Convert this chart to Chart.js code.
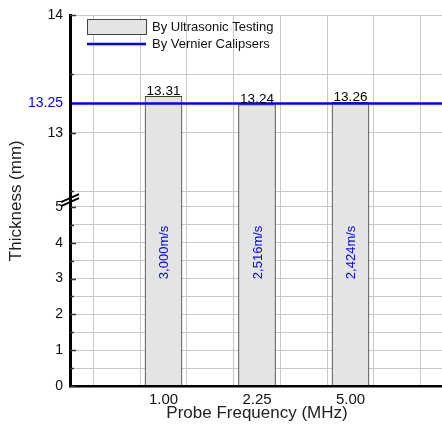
<!DOCTYPE html>
<html>
<head>
<meta charset="utf-8">
<script src="https://cdn.jsdelivr.net/npm/chart.js@4.4.1/dist/chart.umd.min.js"></script>
<style>
  html, body { margin: 0; padding: 0; background: #fff; overflow: hidden; }
  canvas { display: block; }
</style>
</head>
<body>
<canvas id="thicknessChart" width="449" height="430"></canvas>
<script>
// Data
const frequencies = ['1.00', '2.25', '5.00'];
const freqPositions = [2, 4, 6];
const ultrasonicThickness = [13.31, 13.24, 13.26];
const velocities = ['3,000m/s', '2,516m/s', '2,424m/s'];
const vernierThickness = 13.25;
const yLabelValues = [0, 1, 2, 3, 4, 5, 13, 14];
const xMin = 0, xMax = 8;

// Broken y axis: 0..lowTop at normal scale, highBottom..14 stretched
const lowTop = 5.3;
const highBottom = 12.46;
const highStretch = 118 / 36;

const FONT = '"Liberation Sans", Arial, sans-serif';
Chart.defaults.font.family = FONT;

function squash(v) {
  if (v <= lowTop) return v;
  return lowTop + (Math.max(v, highBottom) - highBottom) * highStretch;
}
function unsquash(d) {
  if (d <= lowTop) return d;
  return highBottom + (d - lowTop) / highStretch;
}

// gridline values: every 0.5 in both segments, plus the vernier value
const yTickValues = [];
for (let v = 0; v <= 5; v += 0.5) yTickValues.push(v);
for (let v = 12.5; v <= 14; v += 0.5) yTickValues.push(v);
yTickValues.push(vernierThickness);
yTickValues.sort((a, b) => a - b);

class BrokenScale extends Chart.LinearScale {
  getPixelForValue(value) {
    const lo = squash(this.min), hi = squash(this.max);
    return this.getPixelForDecimal((squash(value) - lo) / (hi - lo));
  }
  getValueForPixel(pixel) {
    const lo = squash(this.min), hi = squash(this.max);
    return unsquash(lo + this.getDecimalForPixel(pixel) * (hi - lo));
  }
  buildTicks() {
    return yTickValues.map(v => ({ value: v }));
  }
}
BrokenScale.id = 'broken';
BrokenScale.defaults = Chart.LinearScale.defaults;
Chart.register(BrokenScale);

const extras = {
  id: 'extras',
  afterDatasetsDraw(chart) {
    const { ctx } = chart;
    const y = chart.scales.y;
    const bars = chart.getDatasetMeta(0).data;
    ctx.save();
    ctx.textAlign = 'center';
    // values above bars
    ctx.fillStyle = '#000';
    ctx.font = '13.5px ' + FONT;
    ctx.textBaseline = 'alphabetic';
    bars.forEach((bar, i) => {
      ctx.fillText(ultrasonicThickness[i].toFixed(2), bar.x, bar.y - 1.5);
    });
    // velocities, rotated inside the bars
    ctx.fillStyle = '#0000ff';
    ctx.font = '13px ' + FONT;
    ctx.textBaseline = 'middle';
    bars.forEach((bar, i) => {
      ctx.save();
      ctx.translate(bar.x + 1, y.getPixelForValue(3.73));
      ctx.rotate(-Math.PI / 2);
      ctx.fillText(velocities[i], 0, 0);
      ctx.restore();
    });
    ctx.restore();
  },
  afterDraw(chart) {
    const { ctx, chartArea } = chart;
    const y = chart.scales.y;
    const xa = chartArea.left;
    ctx.save();

    // inward tick marks
    ctx.strokeStyle = '#333';
    ctx.lineWidth = 1.5;
    yTickValues.forEach(v => {
      if (v === vernierThickness) return;
      const py = Math.round(y.getPixelForValue(v)) + 0.5;
      const len = Number.isInteger(v) ? 6 : 4;
      ctx.beginPath();
      ctx.moveTo(xa, py);
      ctx.lineTo(xa + len, py);
      ctx.stroke();
    });

    // axis break marks
    const yb = y.getPixelForValue(lowTop);
    ctx.strokeStyle = '#000';
    ctx.lineWidth = 2;
    [0, 4].forEach(d => {
      ctx.beginPath();
      ctx.moveTo(xa - 9, yb + 2 + d + 4);
      ctx.lineTo(xa + 9, yb + 2 + d - 4);
      ctx.stroke();
    });

    // legend
    const ds = chart.data.datasets;
    const lx = xa + 17;
    ctx.font = '13px ' + FONT;
    ctx.textAlign = 'left';
    ctx.textBaseline = 'middle';
    ctx.fillStyle = ds[0].backgroundColor;
    ctx.fillRect(lx + 0.5, 19.5, 59, 15);
    ctx.strokeStyle = '#444';
    ctx.lineWidth = 1;
    ctx.strokeRect(lx + 0.5, 19.5, 59, 15);
    ctx.fillStyle = '#111';
    ctx.fillText(ds[0].label, lx + 65, 27);

    ctx.strokeStyle = ds[1].borderColor;
    ctx.lineWidth = 2.5;
    ctx.beginPath();
    ctx.moveTo(lx, 44);
    ctx.lineTo(lx + 59, 44);
    ctx.stroke();
    ctx.fillStyle = '#111';
    ctx.fillText(ds[1].label, lx + 65, 44);

    ctx.restore();
  }
};

new Chart(document.getElementById('thicknessChart'), {
  type: 'bar',
  data: {
    datasets: [
      {
        type: 'bar',
        label: 'By Ultrasonic Testing',
        data: freqPositions.map((x, i) => ({ x: x, y: ultrasonicThickness[i] })),
        backgroundColor: '#e4e4e4',
        borderColor: '#3a3a3a',
        borderWidth: 1,
        barThickness: 37,
        order: 2
      },
      {
        type: 'line',
        label: 'By Vernier Calipsers',
        data: [{ x: xMin, y: vernierThickness }, { x: xMax, y: vernierThickness }],
        borderColor: '#0000ff',
        borderWidth: 2.5,
        pointRadius: 0,
        order: 1
      }
    ]
  },
  options: {
    responsive: false,
    animation: false,
    layout: { padding: { top: 13, left: 0, right: 0, bottom: 0 } },
    plugins: {
      legend: { display: false },
      tooltip: { enabled: false }
    },
    scales: {
      x: {
        type: 'linear',
        min: xMin,
        max: xMax,
        offset: false,
        grid: { color: '#c8c8c8', drawTicks: false },
        border: { color: '#000', width: 2.5, z: 1 },
        ticks: {
          stepSize: 1,
          autoSkip: false,
          maxRotation: 0,
          padding: 5,
          color: '#111',
          font: { size: 15 },
          callback: v => {
            const i = freqPositions.indexOf(v);
            return i >= 0 ? frequencies[i] : '';
          }
        },
        title: {
          display: true,
          text: 'Probe Frequency (MHz)',
          color: '#222',
          font: { size: 17 },
          padding: { top: 0, bottom: 6 }
        },
        afterFit: s => { s.height = 44; }
      },
      y: {
        type: 'broken',
        position: 'left',
        min: 0,
        max: 14,
        grid: {
          drawTicks: false,
          color: ctx => ctx.tick && ctx.tick.value === vernierThickness ? 'rgba(0,0,0,0)' : '#c8c8c8'
        },
        border: { color: '#000', width: 3, z: 1 },
        ticks: {
          autoSkip: false,
          padding: 7,
          font: { size: 14 },
          color: ctx => ctx.tick && ctx.tick.value === vernierThickness ? '#0000ff' : '#111',
          callback: v => {
            if (v === vernierThickness) return '13.25';
            return yLabelValues.includes(v) ? String(v) : '';
          }
        },
        title: {
          display: true,
          text: 'Thickness (mm)',
          color: '#222',
          font: { size: 17 },
          padding: { top: 6, bottom: 0 }
        },
        afterFit: s => { s.width = 70; }
      }
    }
  },
  plugins: [extras]
});
</script>
</body>
</html>
